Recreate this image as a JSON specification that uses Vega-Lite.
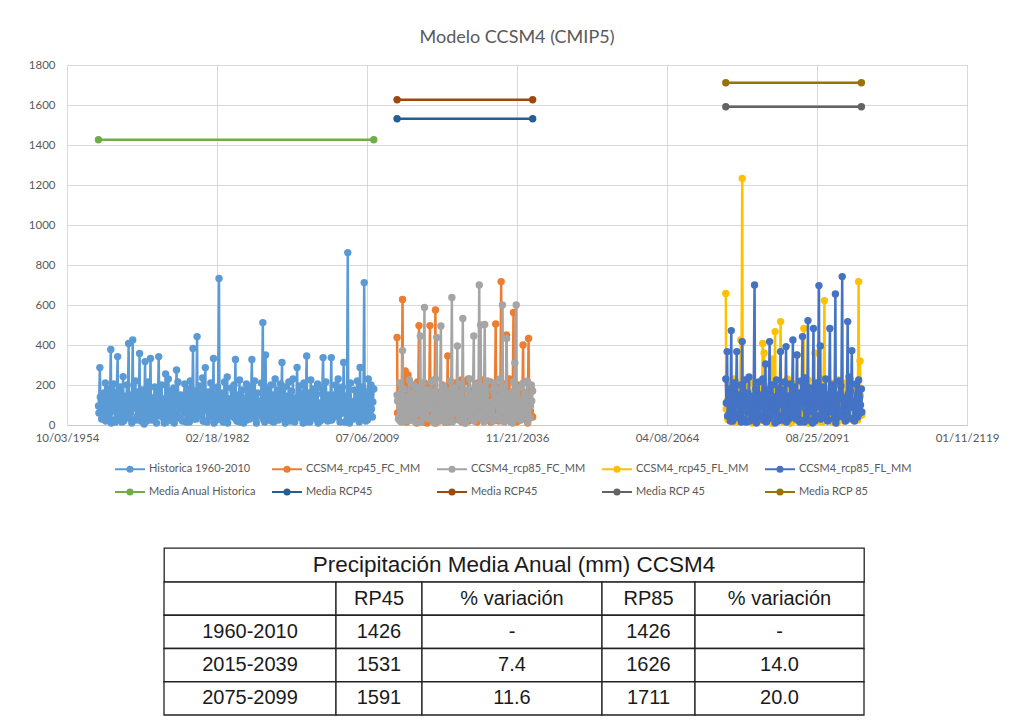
{
  "$schema": "https://vega.github.io/schema/vega-lite/v6.json",
  "background": "white",
  "padding": {"left": 27, "top": 28, "right": 5, "bottom": 5},
  "config": {"view": {"stroke": null}, "font": "Lato"},
  "datasets": {
    "H": [
      {"t":"1960-07","v":95},{"t":"1960-10","v":287},
      {"t":"1961-01","v":120},{"t":"1961-04","v":45},{"t":"1961-07","v":160},{"t":"1961-10","v":210},
      {"t":"1962-01","v":60},{"t":"1962-04","v":180},{"t":"1962-07","v":30},{"t":"1962-10","v":378},
      {"t":"1963-01","v":140},{"t":"1963-04","v":205},{"t":"1963-07","v":25},{"t":"1963-10","v":110},
      {"t":"1964-01","v":342},{"t":"1964-04","v":70},{"t":"1964-07","v":190},{"t":"1964-10","v":15},
      {"t":"1965-01","v":242},{"t":"1965-04","v":130},{"t":"1965-07","v":55},{"t":"1965-10","v":200},
      {"t":"1966-01","v":408},{"t":"1966-04","v":35},{"t":"1966-07","v":150},{"t":"1966-10","v":425},
      {"t":"1967-01","v":85},{"t":"1967-04","v":220},{"t":"1967-07","v":40},{"t":"1967-10","v":165},
      {"t":"1968-01","v":358},{"t":"1968-04","v":20},{"t":"1968-07","v":175},{"t":"1968-10","v":100},
      {"t":"1969-01","v":317},{"t":"1969-04","v":60},{"t":"1969-07","v":215},{"t":"1969-10","v":140},
      {"t":"1970-01","v":333},{"t":"1970-04","v":25},{"t":"1970-07","v":120},{"t":"1970-10","v":190},
      {"t":"1971-01","v":75},{"t":"1971-04","v":160},{"t":"1971-07","v":342},{"t":"1971-10","v":45},
      {"t":"1972-01","v":200},{"t":"1972-04","v":90},{"t":"1972-07","v":10},{"t":"1972-10","v":255},
      {"t":"1973-01","v":135},{"t":"1973-04","v":230},{"t":"1973-07","v":50},{"t":"1973-10","v":170},
      {"t":"1974-01","v":20},{"t":"1974-04","v":185},{"t":"1974-07","v":110},{"t":"1974-10","v":275},
      {"t":"1975-01","v":215},{"t":"1975-04","v":40},{"t":"1975-07","v":150},{"t":"1975-10","v":80},
      {"t":"1976-01","v":125},{"t":"1976-04","v":205},{"t":"1976-07","v":15},{"t":"1976-10","v":180},
      {"t":"1977-01","v":60},{"t":"1977-04","v":220},{"t":"1977-07","v":95},{"t":"1977-10","v":383},
      {"t":"1978-01","v":30},{"t":"1978-04","v":170},{"t":"1978-07","v":442},{"t":"1978-10","v":140},
      {"t":"1979-01","v":195},{"t":"1979-04","v":55},{"t":"1979-07","v":235},{"t":"1979-10","v":20},
      {"t":"1980-01","v":287},{"t":"1980-04","v":110},{"t":"1980-07","v":165},{"t":"1980-10","v":40},
      {"t":"1981-01","v":210},{"t":"1981-04","v":75},{"t":"1981-07","v":333},{"t":"1981-10","v":130},
      {"t":"1982-01","v":25},{"t":"1982-04","v":190},{"t":"1982-07","v":733},{"t":"1982-10","v":60},
      {"t":"1983-01","v":160},{"t":"1983-04","v":15},{"t":"1983-07","v":215},{"t":"1983-10","v":105},
      {"t":"1984-01","v":240},{"t":"1984-04","v":45},{"t":"1984-07","v":130},{"t":"1984-10","v":185},
      {"t":"1985-01","v":70},{"t":"1985-04","v":200},{"t":"1985-07","v":328},{"t":"1985-10","v":20},
      {"t":"1986-01","v":150},{"t":"1986-04","v":225},{"t":"1986-07","v":35},{"t":"1986-10","v":175},
      {"t":"1987-01","v":10},{"t":"1987-04","v":120},{"t":"1987-07","v":205},{"t":"1987-10","v":65},
      {"t":"1988-01","v":190},{"t":"1988-04","v":50},{"t":"1988-07","v":328},{"t":"1988-10","v":140},
      {"t":"1989-01","v":220},{"t":"1989-04","v":30},{"t":"1989-07","v":160},{"t":"1989-10","v":95},
      {"t":"1990-01","v":115},{"t":"1990-04","v":210},{"t":"1990-07","v":512},{"t":"1990-10","v":45},
      {"t":"1991-01","v":350},{"t":"1991-04","v":80},{"t":"1991-07","v":185},{"t":"1991-10","v":25},
      {"t":"1992-01","v":200},{"t":"1992-04","v":140},{"t":"1992-07","v":15},{"t":"1992-10","v":230},
      {"t":"1993-01","v":60},{"t":"1993-04","v":175},{"t":"1993-07","v":120},{"t":"1993-10","v":205},
      {"t":"1994-01","v":313},{"t":"1994-04","v":35},{"t":"1994-07","v":190},{"t":"1994-10","v":85},
      {"t":"1995-01","v":145},{"t":"1995-04","v":215},{"t":"1995-07","v":20},{"t":"1995-10","v":170},
      {"t":"1996-01","v":230},{"t":"1996-04","v":55},{"t":"1996-07","v":125},{"t":"1996-10","v":288},
      {"t":"1997-01","v":40},{"t":"1997-04","v":195},{"t":"1997-07","v":100},{"t":"1997-10","v":160},
      {"t":"1998-01","v":210},{"t":"1998-04","v":15},{"t":"1998-07","v":345},{"t":"1998-10","v":130},
      {"t":"1999-01","v":75},{"t":"1999-04","v":225},{"t":"1999-07","v":50},{"t":"1999-10","v":180},
      {"t":"2000-01","v":160},{"t":"2000-04","v":30},{"t":"2000-07","v":205},{"t":"2000-10","v":110},
      {"t":"2001-01","v":20},{"t":"2001-04","v":185},{"t":"2001-07","v":337},{"t":"2001-10","v":65},
      {"t":"2002-01","v":215},{"t":"2002-04","v":90},{"t":"2002-07","v":150},{"t":"2002-10","v":25},
      {"t":"2003-01","v":337},{"t":"2003-04","v":120},{"t":"2003-07","v":40},{"t":"2003-10","v":200},
      {"t":"2004-01","v":55},{"t":"2004-04","v":230},{"t":"2004-07","v":135},{"t":"2004-10","v":170},
      {"t":"2005-01","v":190},{"t":"2005-04","v":313},{"t":"2005-07","v":15},{"t":"2005-10","v":145},
      {"t":"2006-01","v":862},{"t":"2006-04","v":60},{"t":"2006-07","v":210},{"t":"2006-10","v":100},
      {"t":"2007-01","v":30},{"t":"2007-04","v":175},{"t":"2007-07","v":125},{"t":"2007-10","v":220},
      {"t":"2008-01","v":150},{"t":"2008-04","v":288},{"t":"2008-07","v":45},{"t":"2008-10","v":190},
      {"t":"2009-01","v":712},{"t":"2009-04","v":20},{"t":"2009-07","v":165},{"t":"2009-10","v":230},
      {"t":"2010-01","v":110},{"t":"2010-04","v":200},{"t":"2010-07","v":40},{"t":"2010-10","v":180},
      {"t":"1960-08","v":60},{"t":"1960-11","v":140},
      {"t":"1961-02","v":30},{"t":"1961-05","v":110},{"t":"1961-08","v":75},{"t":"1961-11","v":20},
      {"t":"1962-02","v":150},{"t":"1962-05","v":45},{"t":"1962-08","v":95},{"t":"1962-11","v":10},
      {"t":"1963-02","v":70},{"t":"1963-05","v":130},{"t":"1963-08","v":15},{"t":"1963-11","v":165},
      {"t":"1964-02","v":40},{"t":"1964-05","v":100},{"t":"1964-08","v":55},{"t":"1964-11","v":125},
      {"t":"1965-02","v":20},{"t":"1965-05","v":80},{"t":"1965-08","v":145},{"t":"1965-11","v":35},
      {"t":"1966-02","v":115},{"t":"1966-05","v":60},{"t":"1966-08","v":10},{"t":"1966-11","v":90},
      {"t":"1967-02","v":155},{"t":"1967-05","v":25},{"t":"1967-08","v":105},{"t":"1967-11","v":50},
      {"t":"1968-02","v":70},{"t":"1968-05","v":135},{"t":"1968-08","v":40},{"t":"1968-11","v":5},
      {"t":"1969-02","v":95},{"t":"1969-05","v":20},{"t":"1969-08","v":160},{"t":"1969-11","v":60},
      {"t":"1970-02","v":45},{"t":"1970-05","v":110},{"t":"1970-08","v":30},{"t":"1970-11","v":140},
      {"t":"1971-02","v":10},{"t":"1971-05","v":85},{"t":"1971-08","v":125},{"t":"1971-11","v":55},
      {"t":"1972-02","v":130},{"t":"1972-05","v":35},{"t":"1972-08","v":70},{"t":"1972-11","v":15},
      {"t":"1973-02","v":60},{"t":"1973-05","v":150},{"t":"1973-08","v":25},{"t":"1973-11","v":100},
      {"t":"1974-02","v":90},{"t":"1974-05","v":10},{"t":"1974-08","v":55},{"t":"1974-11","v":135},
      {"t":"1975-02","v":35},{"t":"1975-05","v":120},{"t":"1975-08","v":80},{"t":"1975-11","v":20},
      {"t":"1976-02","v":145},{"t":"1976-05","v":65},{"t":"1976-08","v":100},{"t":"1976-11","v":40},
      {"t":"1977-02","v":15},{"t":"1977-05","v":95},{"t":"1977-08","v":50},{"t":"1977-11","v":170},
      {"t":"1978-02","v":105},{"t":"1978-05","v":30},{"t":"1978-08","v":60},{"t":"1978-11","v":85},
      {"t":"1979-02","v":50},{"t":"1979-05","v":140},{"t":"1979-08","v":20},{"t":"1979-11","v":115},
      {"t":"1980-02","v":75},{"t":"1980-05","v":15},{"t":"1980-08","v":125},{"t":"1980-11","v":60},
      {"t":"1981-02","v":120},{"t":"1981-05","v":45},{"t":"1981-08","v":10},{"t":"1981-11","v":95},
      {"t":"1982-02","v":40},{"t":"1982-05","v":160},{"t":"1982-08","v":70},{"t":"1982-11","v":30},
      {"t":"1983-02","v":90},{"t":"1983-05","v":55},{"t":"1983-08","v":115},{"t":"1983-11","v":20},
      {"t":"1984-02","v":10},{"t":"1984-05","v":130},{"t":"1984-08","v":45},{"t":"1984-11","v":75},
      {"t":"1985-02","v":165},{"t":"1985-05","v":35},{"t":"1985-08","v":85},{"t":"1985-11","v":110},
      {"t":"1986-02","v":60},{"t":"1986-05","v":15},{"t":"1986-08","v":140},{"t":"1986-11","v":45},
      {"t":"1987-02","v":100},{"t":"1987-05","v":70},{"t":"1987-08","v":25},{"t":"1987-11","v":155},
      {"t":"1988-02","v":30},{"t":"1988-05","v":120},{"t":"1988-08","v":80},{"t":"1988-11","v":55},
      {"t":"1989-02","v":145},{"t":"1989-05","v":10},{"t":"1989-08","v":65},{"t":"1989-11","v":120},
      {"t":"1990-02","v":50},{"t":"1990-05","v":95},{"t":"1990-08","v":30},{"t":"1990-11","v":15},
      {"t":"1991-02","v":125},{"t":"1991-05","v":40},{"t":"1991-08","v":100},{"t":"1991-11","v":70},
      {"t":"1992-02","v":20},{"t":"1992-05","v":150},{"t":"1992-08","v":55},{"t":"1992-11","v":85},
      {"t":"1993-02","v":110},{"t":"1993-05","v":25},{"t":"1993-08","v":170},{"t":"1993-11","v":40},
      {"t":"1994-02","v":65},{"t":"1994-05","v":135},{"t":"1994-08","v":10},{"t":"1994-11","v":100},
      {"t":"1995-02","v":45},{"t":"1995-05","v":80},{"t":"1995-08","v":120},{"t":"1995-11","v":25},
      {"t":"1996-02","v":90},{"t":"1996-05","v":15},{"t":"1996-08","v":60},{"t":"1996-11","v":140},
      {"t":"1997-02","v":130},{"t":"1997-05","v":55},{"t":"1997-08","v":35},{"t":"1997-11","v":10},
      {"t":"1998-02","v":70},{"t":"1998-05","v":105},{"t":"1998-08","v":25},{"t":"1998-11","v":160},
      {"t":"1999-02","v":15},{"t":"1999-05","v":60},{"t":"1999-08","v":140},{"t":"1999-11","v":45},
      {"t":"2000-02","v":115},{"t":"2000-05","v":85},{"t":"2000-08","v":10},{"t":"2000-11","v":70},
      {"t":"2001-02","v":50},{"t":"2001-05","v":155},{"t":"2001-08","v":95},{"t":"2001-11","v":30},
      {"t":"2002-02","v":135},{"t":"2002-05","v":20},{"t":"2002-08","v":65},{"t":"2002-11","v":110},
      {"t":"2003-02","v":25},{"t":"2003-05","v":90},{"t":"2003-08","v":150},{"t":"2003-11","v":55},
      {"t":"2004-02","v":100},{"t":"2004-05","v":40},{"t":"2004-08","v":15},{"t":"2004-11","v":125},
      {"t":"2005-02","v":60},{"t":"2005-05","v":130},{"t":"2005-08","v":85},{"t":"2005-11","v":20},
      {"t":"2006-02","v":145},{"t":"2006-05","v":10},{"t":"2006-08","v":50},{"t":"2006-11","v":95},
      {"t":"2007-02","v":70},{"t":"2007-05","v":120},{"t":"2007-08","v":35},{"t":"2007-11","v":60},
      {"t":"2008-02","v":15},{"t":"2008-05","v":105},{"t":"2008-08","v":140},{"t":"2008-11","v":40},
      {"t":"2009-02","v":90},{"t":"2009-05","v":55},{"t":"2009-08","v":25},{"t":"2009-11","v":130},
      {"t":"2010-02","v":45},{"t":"2010-05","v":80},{"t":"2010-08","v":115}
    ],
    "O": [
      {"t":"2015-01","v":438},{"t":"2015-04","v":120},{"t":"2015-07","v":30},{"t":"2015-10","v":190},
      {"t":"2016-01","v":628},{"t":"2016-04","v":60},{"t":"2016-07","v":270},{"t":"2016-10","v":15},
      {"t":"2017-01","v":250},{"t":"2017-04","v":140},{"t":"2017-07","v":205},{"t":"2017-10","v":45},
      {"t":"2018-01","v":175},{"t":"2018-04","v":20},{"t":"2018-07","v":110},{"t":"2018-10","v":215},
      {"t":"2019-01","v":497},{"t":"2019-04","v":85},{"t":"2019-07","v":160},{"t":"2019-10","v":35},
      {"t":"2020-01","v":210},{"t":"2020-04","v":130},{"t":"2020-07","v":10},{"t":"2020-10","v":185},
      {"t":"2021-01","v":497},{"t":"2021-04","v":50},{"t":"2021-07","v":220},{"t":"2021-10","v":95},
      {"t":"2022-01","v":575},{"t":"2022-04","v":165},{"t":"2022-07","v":25},{"t":"2022-10","v":140},
      {"t":"2023-01","v":70},{"t":"2023-04","v":200},{"t":"2023-07","v":120},{"t":"2023-10","v":15},
      {"t":"2024-01","v":190},{"t":"2024-04","v":345},{"t":"2024-07","v":55},{"t":"2024-10","v":160},
      {"t":"2025-01","v":20},{"t":"2025-04","v":135},{"t":"2025-07","v":210},{"t":"2025-10","v":80},
      {"t":"2026-01","v":155},{"t":"2026-04","v":40},{"t":"2026-07","v":180},{"t":"2026-10","v":225},
      {"t":"2027-01","v":100},{"t":"2027-04","v":215},{"t":"2027-07","v":15},{"t":"2027-10","v":130},
      {"t":"2028-01","v":230},{"t":"2028-04","v":60},{"t":"2028-07","v":170},{"t":"2028-10","v":45},
      {"t":"2029-01","v":120},{"t":"2029-04","v":195},{"t":"2029-07","v":30},{"t":"2029-10","v":210},
      {"t":"2030-01","v":50},{"t":"2030-04","v":150},{"t":"2030-07","v":225},{"t":"2030-10","v":90},
      {"t":"2031-01","v":180},{"t":"2031-04","v":25},{"t":"2031-07","v":140},{"t":"2031-10","v":200},
      {"t":"2032-01","v":215},{"t":"2032-04","v":110},{"t":"2032-07","v":60},{"t":"2032-10","v":170},
      {"t":"2033-01","v":505},{"t":"2033-04","v":35},{"t":"2033-07","v":190},{"t":"2033-10","v":120},
      {"t":"2034-01","v":717},{"t":"2034-04","v":150},{"t":"2034-07","v":20},{"t":"2034-10","v":205},
      {"t":"2035-01","v":450},{"t":"2035-04","v":80},{"t":"2035-07","v":230},{"t":"2035-10","v":55},
      {"t":"2036-01","v":135},{"t":"2036-04","v":563},{"t":"2036-07","v":100},{"t":"2036-10","v":15},
      {"t":"2037-01","v":200},{"t":"2037-04","v":45},{"t":"2037-07","v":175},{"t":"2037-10","v":125},
      {"t":"2038-01","v":400},{"t":"2038-04","v":160},{"t":"2038-07","v":30},{"t":"2038-10","v":215},
      {"t":"2039-01","v":433},{"t":"2039-04","v":90},{"t":"2039-07","v":180},{"t":"2039-10","v":40},
      {"t":"2015-02","v":60},{"t":"2015-05","v":150},{"t":"2015-08","v":20},{"t":"2015-11","v":95},
      {"t":"2016-02","v":110},{"t":"2016-05","v":35},{"t":"2016-08","v":80},{"t":"2016-11","v":140},
      {"t":"2017-02","v":25},{"t":"2017-05","v":90},{"t":"2017-08","v":130},{"t":"2017-11","v":55},
      {"t":"2018-02","v":145},{"t":"2018-05","v":70},{"t":"2018-08","v":10},{"t":"2018-11","v":100},
      {"t":"2019-02","v":40},{"t":"2019-05","v":120},{"t":"2019-08","v":65},{"t":"2019-11","v":15},
      {"t":"2020-02","v":95},{"t":"2020-05","v":30},{"t":"2020-08","v":155},{"t":"2020-11","v":50},
      {"t":"2021-02","v":130},{"t":"2021-05","v":85},{"t":"2021-08","v":20},{"t":"2021-11","v":110},
      {"t":"2022-02","v":10},{"t":"2022-05","v":60},{"t":"2022-08","v":140},{"t":"2022-11","v":75},
      {"t":"2023-02","v":120},{"t":"2023-05","v":45},{"t":"2023-08","v":90},{"t":"2023-11","v":30},
      {"t":"2024-02","v":65},{"t":"2024-05","v":15},{"t":"2024-08","v":125},{"t":"2024-11","v":100},
      {"t":"2025-02","v":150},{"t":"2025-05","v":80},{"t":"2025-08","v":40},{"t":"2025-11","v":60},
      {"t":"2026-02","v":30},{"t":"2026-05","v":135},{"t":"2026-08","v":95},{"t":"2026-11","v":15},
      {"t":"2027-02","v":85},{"t":"2027-05","v":55},{"t":"2027-08","v":120},{"t":"2027-11","v":45},
      {"t":"2028-02","v":20},{"t":"2028-05","v":110},{"t":"2028-08","v":65},{"t":"2028-11","v":140},
      {"t":"2029-02","v":100},{"t":"2029-05","v":40},{"t":"2029-08","v":15},{"t":"2029-11","v":75},
      {"t":"2030-02","v":130},{"t":"2030-05","v":70},{"t":"2030-08","v":95},{"t":"2030-11","v":25},
      {"t":"2031-02","v":55},{"t":"2031-05","v":145},{"t":"2031-08","v":35},{"t":"2031-11","v":90},
      {"t":"2032-02","v":15},{"t":"2032-05","v":80},{"t":"2032-08","v":125},{"t":"2032-11","v":50},
      {"t":"2033-02","v":140},{"t":"2033-05","v":60},{"t":"2033-08","v":20},{"t":"2033-11","v":105},
      {"t":"2034-02","v":45},{"t":"2034-05","v":95},{"t":"2034-08","v":135},{"t":"2034-11","v":30},
      {"t":"2035-02","v":110},{"t":"2035-05","v":25},{"t":"2035-08","v":70},{"t":"2035-11","v":150},
      {"t":"2036-02","v":65},{"t":"2036-05","v":120},{"t":"2036-08","v":40},{"t":"2036-11","v":85},
      {"t":"2037-02","v":20},{"t":"2037-05","v":100},{"t":"2037-08","v":155},{"t":"2037-11","v":60},
      {"t":"2038-02","v":90},{"t":"2038-05","v":35},{"t":"2038-08","v":115},{"t":"2038-11","v":10},
      {"t":"2039-02","v":125},{"t":"2039-05","v":70},{"t":"2039-08","v":45}
    ],
    "G": [
      {"t":"2015-01","v":150},{"t":"2015-04","v":30},{"t":"2015-07","v":210},{"t":"2015-10","v":95},
      {"t":"2016-01","v":372},{"t":"2016-04","v":180},{"t":"2016-07","v":45},{"t":"2016-10","v":130},
      {"t":"2017-01","v":20},{"t":"2017-04","v":225},{"t":"2017-07","v":160},{"t":"2017-10","v":70},
      {"t":"2018-01","v":200},{"t":"2018-04","v":110},{"t":"2018-07","v":15},{"t":"2018-10","v":185},
      {"t":"2019-01","v":60},{"t":"2019-04","v":445},{"t":"2019-07","v":140},{"t":"2019-10","v":210},
      {"t":"2020-01","v":588},{"t":"2020-04","v":35},{"t":"2020-07","v":175},{"t":"2020-10","v":90},
      {"t":"2021-01","v":145},{"t":"2021-04","v":215},{"t":"2021-07","v":25},{"t":"2021-10","v":165},
      {"t":"2022-01","v":230},{"t":"2022-04","v":438},{"t":"2022-07","v":80},{"t":"2022-10","v":20},
      {"t":"2023-01","v":495},{"t":"2023-04","v":125},{"t":"2023-07","v":195},{"t":"2023-10","v":50},
      {"t":"2024-01","v":15},{"t":"2024-04","v":170},{"t":"2024-07","v":105},{"t":"2024-10","v":220},
      {"t":"2025-01","v":638},{"t":"2025-04","v":60},{"t":"2025-07","v":185},{"t":"2025-10","v":140},
      {"t":"2026-01","v":395},{"t":"2026-04","v":25},{"t":"2026-07","v":160},{"t":"2026-10","v":205},
      {"t":"2027-01","v":533},{"t":"2027-04","v":95},{"t":"2027-07","v":10},{"t":"2027-10","v":175},
      {"t":"2028-01","v":120},{"t":"2028-04","v":230},{"t":"2028-07","v":70},{"t":"2028-10","v":150},
      {"t":"2029-01","v":445},{"t":"2029-04","v":40},{"t":"2029-07","v":200},{"t":"2029-10","v":115},
      {"t":"2030-01","v":700},{"t":"2030-04","v":500},{"t":"2030-07","v":30},{"t":"2030-10","v":185},
      {"t":"2031-01","v":503},{"t":"2031-04","v":150},{"t":"2031-07","v":220},{"t":"2031-10","v":65},
      {"t":"2032-01","v":90},{"t":"2032-04","v":20},{"t":"2032-07","v":175},{"t":"2032-10","v":210},
      {"t":"2033-01","v":180},{"t":"2033-04","v":135},{"t":"2033-07","v":45},{"t":"2033-10","v":230},
      {"t":"2034-01","v":25},{"t":"2034-04","v":600},{"t":"2034-07","v":190},{"t":"2034-10","v":100},
      {"t":"2035-01","v":433},{"t":"2035-04","v":70},{"t":"2035-07","v":140},{"t":"2035-10","v":15},
      {"t":"2036-01","v":165},{"t":"2036-04","v":215},{"t":"2036-07","v":310},{"t":"2036-10","v":600},
      {"t":"2037-01","v":55},{"t":"2037-04","v":185},{"t":"2037-07","v":125},{"t":"2037-10","v":30},
      {"t":"2038-01","v":210},{"t":"2038-04","v":95},{"t":"2038-07","v":160},{"t":"2038-10","v":220},
      {"t":"2039-01","v":140},{"t":"2039-04","v":35},{"t":"2039-07","v":200},{"t":"2039-10","v":170},
      {"t":"2015-02","v":120},{"t":"2015-05","v":40},{"t":"2015-08","v":85},{"t":"2015-11","v":15},
      {"t":"2016-02","v":65},{"t":"2016-05","v":135},{"t":"2016-08","v":25},{"t":"2016-11","v":100},
      {"t":"2017-02","v":145},{"t":"2017-05","v":55},{"t":"2017-08","v":110},{"t":"2017-11","v":30},
      {"t":"2018-02","v":20},{"t":"2018-05","v":95},{"t":"2018-08","v":150},{"t":"2018-11","v":60},
      {"t":"2019-02","v":105},{"t":"2019-05","v":15},{"t":"2019-08","v":70},{"t":"2019-11","v":130},
      {"t":"2020-02","v":50},{"t":"2020-05","v":140},{"t":"2020-08","v":35},{"t":"2020-11","v":85},
      {"t":"2021-02","v":90},{"t":"2021-05","v":25},{"t":"2021-08","v":120},{"t":"2021-11","v":10},
      {"t":"2022-02","v":130},{"t":"2022-05","v":75},{"t":"2022-08","v":50},{"t":"2022-11","v":155},
      {"t":"2023-02","v":35},{"t":"2023-05","v":110},{"t":"2023-08","v":20},{"t":"2023-11","v":95},
      {"t":"2024-02","v":140},{"t":"2024-05","v":60},{"t":"2024-08","v":130},{"t":"2024-11","v":45},
      {"t":"2025-02","v":15},{"t":"2025-05","v":100},{"t":"2025-08","v":75},{"t":"2025-11","v":125},
      {"t":"2026-02","v":85},{"t":"2026-05","v":45},{"t":"2026-08","v":140},{"t":"2026-11","v":20},
      {"t":"2027-02","v":125},{"t":"2027-05","v":10},{"t":"2027-08","v":65},{"t":"2027-11","v":105},
      {"t":"2028-02","v":55},{"t":"2028-05","v":150},{"t":"2028-08","v":30},{"t":"2028-11","v":90},
      {"t":"2029-02","v":20},{"t":"2029-05","v":80},{"t":"2029-08","v":115},{"t":"2029-11","v":40},
      {"t":"2030-02","v":95},{"t":"2030-05","v":135},{"t":"2030-08","v":55},{"t":"2030-11","v":15},
      {"t":"2031-02","v":140},{"t":"2031-05","v":30},{"t":"2031-08","v":100},{"t":"2031-11","v":75},
      {"t":"2032-02","v":60},{"t":"2032-05","v":115},{"t":"2032-08","v":20},{"t":"2032-11","v":145},
      {"t":"2033-02","v":105},{"t":"2033-05","v":40},{"t":"2033-08","v":85},{"t":"2033-11","v":25},
      {"t":"2034-02","v":130},{"t":"2034-05","v":70},{"t":"2034-08","v":15},{"t":"2034-11","v":110},
      {"t":"2035-02","v":45},{"t":"2035-05","v":155},{"t":"2035-08","v":90},{"t":"2035-11","v":60},
      {"t":"2036-02","v":10},{"t":"2036-05","v":85},{"t":"2036-08","v":130},{"t":"2036-11","v":35},
      {"t":"2037-02","v":120},{"t":"2037-05","v":50},{"t":"2037-08","v":25},{"t":"2037-11","v":100},
      {"t":"2038-02","v":70},{"t":"2038-05","v":140},{"t":"2038-08","v":60},{"t":"2038-11","v":15},
      {"t":"2039-02","v":35},{"t":"2039-05","v":95},{"t":"2039-08","v":120}
    ],
    "Y": [
      {"t":"2075-01","v":658},{"t":"2075-04","v":120},{"t":"2075-07","v":25},{"t":"2075-10","v":200},
      {"t":"2076-01","v":90},{"t":"2076-04","v":180},{"t":"2076-07","v":230},{"t":"2076-10","v":45},
      {"t":"2077-01","v":160},{"t":"2077-04","v":15},{"t":"2077-07","v":210},{"t":"2077-10","v":425},
      {"t":"2078-01","v":1233},{"t":"2078-04","v":70},{"t":"2078-07","v":140},{"t":"2078-10","v":190},
      {"t":"2079-01","v":30},{"t":"2079-04","v":225},{"t":"2079-07","v":100},{"t":"2079-10","v":165},
      {"t":"2080-01","v":205},{"t":"2080-04","v":55},{"t":"2080-07","v":175},{"t":"2080-10","v":20},
      {"t":"2081-01","v":130},{"t":"2081-04","v":215},{"t":"2081-07","v":60},{"t":"2081-10","v":408},
      {"t":"2082-01","v":360},{"t":"2082-04","v":40},{"t":"2082-07","v":185},{"t":"2082-10","v":110},
      {"t":"2083-01","v":15},{"t":"2083-04","v":200},{"t":"2083-07","v":330},{"t":"2083-10","v":150},
      {"t":"2084-01","v":467},{"t":"2084-04","v":95},{"t":"2084-07","v":25},{"t":"2084-10","v":220},
      {"t":"2085-01","v":517},{"t":"2085-04","v":160},{"t":"2085-07","v":70},{"t":"2085-10","v":185},
      {"t":"2086-01","v":45},{"t":"2086-04","v":230},{"t":"2086-07","v":135},{"t":"2086-10","v":10},
      {"t":"2087-01","v":190},{"t":"2087-04","v":80},{"t":"2087-07","v":205},{"t":"2087-10","v":120},
      {"t":"2088-01","v":350},{"t":"2088-04","v":20},{"t":"2088-07","v":160},{"t":"2088-10","v":215},
      {"t":"2089-01","v":60},{"t":"2089-04","v":483},{"t":"2089-07","v":110},{"t":"2089-10","v":35},
      {"t":"2090-01","v":225},{"t":"2090-04","v":140},{"t":"2090-07","v":190},{"t":"2090-10","v":75},
      {"t":"2091-01","v":15},{"t":"2091-04","v":360},{"t":"2091-07","v":50},{"t":"2091-10","v":170},
      {"t":"2092-01","v":200},{"t":"2092-04","v":125},{"t":"2092-07","v":230},{"t":"2092-10","v":30},
      {"t":"2093-01","v":622},{"t":"2093-04","v":65},{"t":"2093-07","v":180},{"t":"2093-10","v":145},
      {"t":"2094-01","v":100},{"t":"2094-04","v":210},{"t":"2094-07","v":15},{"t":"2094-10","v":190},
      {"t":"2095-01","v":175},{"t":"2095-04","v":40},{"t":"2095-07","v":225},{"t":"2095-10","v":120},
      {"t":"2096-01","v":55},{"t":"2096-04","v":195},{"t":"2096-07","v":85},{"t":"2096-10","v":160},
      {"t":"2097-01","v":210},{"t":"2097-04","v":25},{"t":"2097-07","v":150},{"t":"2097-10","v":230},
      {"t":"2098-01","v":130},{"t":"2098-04","v":180},{"t":"2098-07","v":45},{"t":"2098-10","v":100},
      {"t":"2099-01","v":200},{"t":"2099-04","v":717},{"t":"2099-07","v":320},{"t":"2099-10","v":60},
      {"t":"2075-02","v":80},{"t":"2075-05","v":30},{"t":"2075-08","v":150},{"t":"2075-11","v":55},
      {"t":"2076-02","v":125},{"t":"2076-05","v":15},{"t":"2076-08","v":95},{"t":"2076-11","v":140},
      {"t":"2077-02","v":40},{"t":"2077-05","v":110},{"t":"2077-08","v":65},{"t":"2077-11","v":20},
      {"t":"2078-02","v":100},{"t":"2078-05","v":150},{"t":"2078-08","v":30},{"t":"2078-11","v":85},
      {"t":"2079-02","v":135},{"t":"2079-05","v":50},{"t":"2079-08","v":120},{"t":"2079-11","v":10},
      {"t":"2080-02","v":60},{"t":"2080-05","v":95},{"t":"2080-08","v":25},{"t":"2080-11","v":140},
      {"t":"2081-02","v":20},{"t":"2081-05","v":125},{"t":"2081-08","v":80},{"t":"2081-11","v":45},
      {"t":"2082-02","v":115},{"t":"2082-05","v":35},{"t":"2082-08","v":155},{"t":"2082-11","v":70},
      {"t":"2083-02","v":90},{"t":"2083-05","v":10},{"t":"2083-08","v":60},{"t":"2083-11","v":130},
      {"t":"2084-02","v":45},{"t":"2084-05","v":140},{"t":"2084-08","v":105},{"t":"2084-11","v":25},
      {"t":"2085-02","v":150},{"t":"2085-05","v":70},{"t":"2085-08","v":15},{"t":"2085-11","v":95},
      {"t":"2086-02","v":30},{"t":"2086-05","v":85},{"t":"2086-08","v":130},{"t":"2086-11","v":60},
      {"t":"2087-02","v":110},{"t":"2087-05","v":20},{"t":"2087-08","v":45},{"t":"2087-11","v":145},
      {"t":"2088-02","v":65},{"t":"2088-05","v":120},{"t":"2088-08","v":90},{"t":"2088-11","v":15},
      {"t":"2089-02","v":135},{"t":"2089-05","v":40},{"t":"2089-08","v":70},{"t":"2089-11","v":100},
      {"t":"2090-02","v":10},{"t":"2090-05","v":155},{"t":"2090-08","v":35},{"t":"2090-11","v":80},
      {"t":"2091-02","v":95},{"t":"2091-05","v":60},{"t":"2091-08","v":125},{"t":"2091-11","v":20},
      {"t":"2092-02","v":50},{"t":"2092-05","v":105},{"t":"2092-08","v":15},{"t":"2092-11","v":140},
      {"t":"2093-02","v":120},{"t":"2093-05","v":25},{"t":"2093-08","v":85},{"t":"2093-11","v":55},
      {"t":"2094-02","v":35},{"t":"2094-05","v":145},{"t":"2094-08","v":65},{"t":"2094-11","v":110},
      {"t":"2095-02","v":85},{"t":"2095-05","v":10},{"t":"2095-08","v":130},{"t":"2095-11","v":45},
      {"t":"2096-02","v":140},{"t":"2096-05","v":75},{"t":"2096-08","v":20},{"t":"2096-11","v":95},
      {"t":"2097-02","v":55},{"t":"2097-05","v":115},{"t":"2097-08","v":160},{"t":"2097-11","v":30},
      {"t":"2098-02","v":100},{"t":"2098-05","v":40},{"t":"2098-08","v":75},{"t":"2098-11","v":125},
      {"t":"2099-02","v":25},{"t":"2099-05","v":90},{"t":"2099-08","v":145},{"t":"2099-11","v":50}
    ],
    "B": [
      {"t":"2075-01","v":230},{"t":"2075-04","v":367},{"t":"2075-07","v":50},{"t":"2075-10","v":180},
      {"t":"2076-01","v":472},{"t":"2076-04","v":20},{"t":"2076-07","v":210},{"t":"2076-10","v":110},
      {"t":"2077-01","v":367},{"t":"2077-04","v":150},{"t":"2077-07","v":35},{"t":"2077-10","v":200},
      {"t":"2078-01","v":417},{"t":"2078-04","v":85},{"t":"2078-07","v":225},{"t":"2078-10","v":15},
      {"t":"2079-01","v":160},{"t":"2079-04","v":240},{"t":"2079-07","v":60},{"t":"2079-10","v":130},
      {"t":"2080-01","v":25},{"t":"2080-04","v":700},{"t":"2080-07","v":180},{"t":"2080-10","v":95},
      {"t":"2081-01","v":215},{"t":"2081-04","v":40},{"t":"2081-07","v":150},{"t":"2081-10","v":230},
      {"t":"2082-01","v":120},{"t":"2082-04","v":305},{"t":"2082-07","v":20},{"t":"2082-10","v":175},
      {"t":"2083-01","v":417},{"t":"2083-04","v":65},{"t":"2083-07","v":200},{"t":"2083-10","v":140},
      {"t":"2084-01","v":10},{"t":"2084-04","v":225},{"t":"2084-07","v":100},{"t":"2084-10","v":185},
      {"t":"2085-01","v":367},{"t":"2085-04","v":45},{"t":"2085-07","v":170},{"t":"2085-10","v":215},
      {"t":"2086-01","v":392},{"t":"2086-04","v":135},{"t":"2086-07","v":30},{"t":"2086-10","v":205},
      {"t":"2087-01","v":80},{"t":"2087-04","v":425},{"t":"2087-07","v":190},{"t":"2087-10","v":55},
      {"t":"2088-01","v":350},{"t":"2088-04","v":160},{"t":"2088-07","v":15},{"t":"2088-10","v":220},
      {"t":"2089-01","v":442},{"t":"2089-04","v":110},{"t":"2089-07","v":235},{"t":"2089-10","v":40},
      {"t":"2090-01","v":522},{"t":"2090-04","v":185},{"t":"2090-07","v":70},{"t":"2090-10","v":150},
      {"t":"2091-01","v":483},{"t":"2091-04","v":20},{"t":"2091-07","v":210},{"t":"2091-10","v":125},
      {"t":"2092-01","v":697},{"t":"2092-04","v":395},{"t":"2092-07","v":55},{"t":"2092-10","v":190},
      {"t":"2093-01","v":140},{"t":"2093-04","v":230},{"t":"2093-07","v":100},{"t":"2093-10","v":25},
      {"t":"2094-01","v":483},{"t":"2094-04","v":165},{"t":"2094-07","v":200},{"t":"2094-10","v":60},
      {"t":"2095-01","v":655},{"t":"2095-04","v":35},{"t":"2095-07","v":150},{"t":"2095-10","v":220},
      {"t":"2096-01","v":195},{"t":"2096-04","v":742},{"t":"2096-07","v":80},{"t":"2096-10","v":135},
      {"t":"2097-01","v":30},{"t":"2097-04","v":517},{"t":"2097-07","v":240},{"t":"2097-10","v":170},
      {"t":"2098-01","v":372},{"t":"2098-04","v":90},{"t":"2098-07","v":20},{"t":"2098-10","v":205},
      {"t":"2099-01","v":150},{"t":"2099-04","v":225},{"t":"2099-07","v":60},{"t":"2099-10","v":180},
      {"t":"2075-02","v":110},{"t":"2075-05","v":45},{"t":"2075-08","v":140},{"t":"2075-11","v":20},
      {"t":"2076-02","v":70},{"t":"2076-05","v":125},{"t":"2076-08","v":35},{"t":"2076-11","v":95},
      {"t":"2077-02","v":150},{"t":"2077-05","v":60},{"t":"2077-08","v":100},{"t":"2077-11","v":15},
      {"t":"2078-02","v":30},{"t":"2078-05","v":115},{"t":"2078-08","v":75},{"t":"2078-11","v":140},
      {"t":"2079-02","v":95},{"t":"2079-05","v":20},{"t":"2079-08","v":130},{"t":"2079-11","v":55},
      {"t":"2080-02","v":145},{"t":"2080-05","v":85},{"t":"2080-08","v":10},{"t":"2080-11","v":65},
      {"t":"2081-02","v":50},{"t":"2081-05","v":135},{"t":"2081-08","v":90},{"t":"2081-11","v":25},
      {"t":"2082-02","v":120},{"t":"2082-05","v":15},{"t":"2082-08","v":60},{"t":"2082-11","v":150},
      {"t":"2083-02","v":35},{"t":"2083-05","v":100},{"t":"2083-08","v":140},{"t":"2083-11","v":70},
      {"t":"2084-02","v":85},{"t":"2084-05","v":55},{"t":"2084-08","v":20},{"t":"2084-11","v":115},
      {"t":"2085-02","v":130},{"t":"2085-05","v":25},{"t":"2085-08","v":95},{"t":"2085-11","v":45},
      {"t":"2086-02","v":15},{"t":"2086-05","v":145},{"t":"2086-08","v":65},{"t":"2086-11","v":100},
      {"t":"2087-02","v":105},{"t":"2087-05","v":40},{"t":"2087-08","v":150},{"t":"2087-11","v":30},
      {"t":"2088-02","v":60},{"t":"2088-05","v":90},{"t":"2088-08","v":25},{"t":"2088-11","v":125},
      {"t":"2089-02","v":140},{"t":"2089-05","v":15},{"t":"2089-08","v":80},{"t":"2089-11","v":55},
      {"t":"2090-02","v":25},{"t":"2090-05","v":120},{"t":"2090-08","v":100},{"t":"2090-11","v":10},
      {"t":"2091-02","v":75},{"t":"2091-05","v":50},{"t":"2091-08","v":145},{"t":"2091-11","v":90},
      {"t":"2092-02","v":115},{"t":"2092-05","v":30},{"t":"2092-08","v":60},{"t":"2092-11","v":135},
      {"t":"2093-02","v":45},{"t":"2093-05","v":150},{"t":"2093-08","v":20},{"t":"2093-11","v":85},
      {"t":"2094-02","v":100},{"t":"2094-05","v":65},{"t":"2094-08","v":125},{"t":"2094-11","v":35},
      {"t":"2095-02","v":10},{"t":"2095-05","v":95},{"t":"2095-08","v":55},{"t":"2095-11","v":140},
      {"t":"2096-02","v":130},{"t":"2096-05","v":40},{"t":"2096-08","v":110},{"t":"2096-11","v":20},
      {"t":"2097-02","v":70},{"t":"2097-05","v":155},{"t":"2097-08","v":35},{"t":"2097-11","v":90},
      {"t":"2098-02","v":120},{"t":"2098-05","v":25},{"t":"2098-08","v":85},{"t":"2098-11","v":50},
      {"t":"2099-02","v":40},{"t":"2099-05","v":135},{"t":"2099-08","v":100},{"t":"2099-11","v":65}
    ],
    "M": [
      {"s":"MH","t":"1960-07","v":1426},{"s":"MH","t":"2010-10","v":1426},
      {"s":"M1","t":"2015-01","v":1531},{"s":"M1","t":"2039-10","v":1531},
      {"s":"M2","t":"2015-01","v":1626},{"s":"M2","t":"2039-10","v":1626},
      {"s":"M3","t":"2075-01","v":1591},{"s":"M3","t":"2099-10","v":1591},
      {"s":"M4","t":"2075-01","v":1711},{"s":"M4","t":"2099-10","v":1711}
    ],
    "tbl": [
      {"c":0,"r":"h","x":""},{"c":0,"r":"a","x":"1960-2010"},{"c":0,"r":"b","x":"2015-2039"},{"c":0,"r":"c","x":"2075-2099"},
      {"c":1,"r":"h","x":"RP45"},{"c":1,"r":"a","x":"1426"},{"c":1,"r":"b","x":"1531"},{"c":1,"r":"c","x":"1591"},
      {"c":2,"r":"h","x":"% variación"},{"c":2,"r":"a","x":"-"},{"c":2,"r":"b","x":"7.4"},{"c":2,"r":"c","x":"11.6"},
      {"c":3,"r":"h","x":"RP85"},{"c":3,"r":"a","x":"1426"},{"c":3,"r":"b","x":"1626"},{"c":3,"r":"c","x":"1711"},
      {"c":4,"r":"h","x":"% variación"},{"c":4,"r":"a","x":"-"},{"c":4,"r":"b","x":"14.0"},{"c":4,"r":"c","x":"20.0"}
    ]
  },
  "vconcat": [
    {
      "width": 900,
      "height": 360,
      "view": {"stroke": "#d9d9d9"},
      "title": {"text": "Modelo CCSM4 (CMIP5)", "font": "Lato", "fontSize": 18, "fontWeight": "normal", "color": "#595959", "offset": 12, "anchor": "middle"},
      "encoding": {
        "x": {
          "field": "t", "type": "temporal",
          "scale": {"type": "utc", "domain": [{"year": 1954, "month": 10, "date": 3, "utc": true}, {"year": 2119, "month": 1, "date": 11, "utc": true}]},
          "axis": {
            "title": null,
            "values": [
              {"year": 1954, "month": 10, "date": 3, "utc": true},
              {"year": 1982, "month": 2, "date": 18, "utc": true},
              {"year": 2009, "month": 7, "date": 6, "utc": true},
              {"year": 2036, "month": 11, "date": 21, "utc": true},
              {"year": 2064, "month": 4, "date": 8, "utc": true},
              {"year": 2091, "month": 8, "date": 25, "utc": true},
              {"year": 2119, "month": 1, "date": 11, "utc": true}
            ],
            "labelExpr": "utcFormat(datum.value, '%m/%d/%Y')",
            "grid": true, "gridColor": "#d9d9d9", "ticks": false, "tickSize": 0,
            "domain": true, "domainColor": "#c8c8c8",
            "labelFont": "Lato", "labelFontSize": 11.5, "labelColor": "#595959", "labelPadding": 7, "labelFlush": false, "labelOverlap": false
          }
        },
        "y": {
          "field": "v", "type": "quantitative",
          "scale": {"domain": [0, 1800], "nice": false},
          "axis": {
            "title": null, "values": [0, 200, 400, 600, 800, 1000, 1200, 1400, 1600, 1800], "format": "d",
            "grid": true, "gridColor": "#d9d9d9", "ticks": false, "tickSize": 0, "domain": false,
            "labelFont": "Lato", "labelFontSize": 11.5, "labelColor": "#595959", "labelPadding": 12
          }
        }
      },
      "layer": [
        {
          "data": {"name": "H"},
          "mark": {"type": "line", "strokeWidth": 2.5, "point": {"filled": true, "size": 55}},
          "encoding": {
            "color": {
              "datum": "H",
              "title": null,
              "scale": {
                "domain": ["H", "O", "G", "Y", "B", "MH", "M1", "M2", "M3", "M4"],
                "range": ["#5B9BD5", "#ED7D31", "#A5A5A5", "#FFC000", "#4472C4", "#70AD47", "#255E91", "#9E480E", "#636363", "#997300"]
              },
              "legend": {
                "title": null, "orient": "none", "legendX": 47, "legendY": 388, "columns": 5, "direction": "horizontal",
                "columnPadding": 12, "rowPadding": -5, "padding": 0,
                "symbolType": "M-1,0L1,0M0.17,0A0.17,0.17,0,1,1,-0.17,0A0.17,0.17,0,1,1,0.17,0Z",
                "symbolSize": 900, "symbolStrokeWidth": 2, "symbolOpacity": 1,
                "labelFont": "Lato", "labelFontSize": 11, "labelColor": "#595959", "labelOffset": 3, "labelLimit": 300,
                "labelExpr": "datum.value=='H'?'Historica 1960-2010':datum.value=='O'?'CCSM4_rcp45_FC_MM':datum.value=='G'?'CCSM4_rcp85_FC_MM':datum.value=='Y'?'CCSM4_rcp45_FL_MM':datum.value=='B'?'CCSM4_rcp85_FL_MM':datum.value=='MH'?'Media Anual Historica':datum.value=='M1'?'Media RCP45':datum.value=='M2'?'Media RCP45':datum.value=='M3'?'Media RCP 45':'Media RCP 85'",
                "encode": {"symbols": {"update": {"fill": {"scale": "color", "field": "value"}, "stroke": {"scale": "color", "field": "value"}, "strokeWidth": {"value": 2}}}}
              }
            }
          }
        },
        {"data": {"name": "O"}, "mark": {"type": "line", "strokeWidth": 2.5, "point": {"filled": true, "size": 55}}, "encoding": {"color": {"datum": "O", "title": null}}},
        {"data": {"name": "G"}, "mark": {"type": "line", "strokeWidth": 2.5, "point": {"filled": true, "size": 55}}, "encoding": {"color": {"datum": "G", "title": null}}},
        {"data": {"name": "Y"}, "mark": {"type": "line", "strokeWidth": 2.5, "point": {"filled": true, "size": 55}}, "encoding": {"color": {"datum": "Y", "title": null}}},
        {"data": {"name": "B"}, "mark": {"type": "line", "strokeWidth": 2.5, "point": {"filled": true, "size": 55}}, "encoding": {"color": {"datum": "B", "title": null}}},
        {"data": {"name": "M"}, "mark": {"type": "line", "strokeWidth": 2.5, "point": {"filled": true, "size": 55}}, "encoding": {"color": {"field": "s", "type": "nominal", "title": null}}}
      ]
    },
    {
      "spacing": 0,
      "bounds": "flush",
      "hconcat": [
        {"width": 97, "height": 10, "data": {"values": []}, "mark": "point", "encoding": {}},
        {
          "spacing": 0,
          "bounds": "flush",
          "vconcat": [
            {
              "width": 700, "height": 34,
              "view": {"stroke": "#222222", "strokeWidth": 1.3},
              "data": {"values": [{"txt": "Precipitación Media Anual (mm) CCSM4"}]},
              "mark": {"type": "text", "font": "Liberation Sans", "fontSize": 22.5, "color": "#1a1a1a"},
              "encoding": {"text": {"field": "txt"}}
            },
            {
              "spacing": 0,
              "bounds": "flush",
              "hconcat": [
                {"width": 172, "height": 133, "data": {"name": "tbl"}, "transform": [{"filter": "datum.c == 0"}],
                 "encoding": {"y": {"field": "r", "type": "ordinal", "axis": null, "scale": {"domain": ["h", "a", "b", "c"], "paddingInner": 0, "paddingOuter": 0}}},
                 "layer": [
                   {"mark": {"type": "rect", "fill": "white", "stroke": "#222222", "strokeWidth": 1.3}},
                   {"mark": {"type": "text", "font": "Liberation Sans", "fontSize": 20, "color": "#1a1a1a"}, "encoding": {"text": {"field": "x"}}}
                 ]},
                {"width": 86, "height": 133, "data": {"name": "tbl"}, "transform": [{"filter": "datum.c == 1"}],
                 "encoding": {"y": {"field": "r", "type": "ordinal", "axis": null, "scale": {"domain": ["h", "a", "b", "c"], "paddingInner": 0, "paddingOuter": 0}}},
                 "layer": [
                   {"mark": {"type": "rect", "fill": "white", "stroke": "#222222", "strokeWidth": 1.3}},
                   {"mark": {"type": "text", "font": "Liberation Sans", "fontSize": 20, "color": "#1a1a1a"}, "encoding": {"text": {"field": "x"}}}
                 ]},
                {"width": 180, "height": 133, "data": {"name": "tbl"}, "transform": [{"filter": "datum.c == 2"}],
                 "encoding": {"y": {"field": "r", "type": "ordinal", "axis": null, "scale": {"domain": ["h", "a", "b", "c"], "paddingInner": 0, "paddingOuter": 0}}},
                 "layer": [
                   {"mark": {"type": "rect", "fill": "white", "stroke": "#222222", "strokeWidth": 1.3}},
                   {"mark": {"type": "text", "font": "Liberation Sans", "fontSize": 20, "color": "#1a1a1a"}, "encoding": {"text": {"field": "x"}}}
                 ]},
                {"width": 93, "height": 133, "data": {"name": "tbl"}, "transform": [{"filter": "datum.c == 3"}],
                 "encoding": {"y": {"field": "r", "type": "ordinal", "axis": null, "scale": {"domain": ["h", "a", "b", "c"], "paddingInner": 0, "paddingOuter": 0}}},
                 "layer": [
                   {"mark": {"type": "rect", "fill": "white", "stroke": "#222222", "strokeWidth": 1.3}},
                   {"mark": {"type": "text", "font": "Liberation Sans", "fontSize": 20, "color": "#1a1a1a"}, "encoding": {"text": {"field": "x"}}}
                 ]},
                {"width": 169, "height": 133, "data": {"name": "tbl"}, "transform": [{"filter": "datum.c == 4"}],
                 "encoding": {"y": {"field": "r", "type": "ordinal", "axis": null, "scale": {"domain": ["h", "a", "b", "c"], "paddingInner": 0, "paddingOuter": 0}}},
                 "layer": [
                   {"mark": {"type": "rect", "fill": "white", "stroke": "#222222", "strokeWidth": 1.3}},
                   {"mark": {"type": "text", "font": "Liberation Sans", "fontSize": 20, "color": "#1a1a1a"}, "encoding": {"text": {"field": "x"}}}
                 ]}
              ]
            }
          ]
        }
      ]
    }
  ],
  "spacing": 123,
  "bounds": "flush"
}
